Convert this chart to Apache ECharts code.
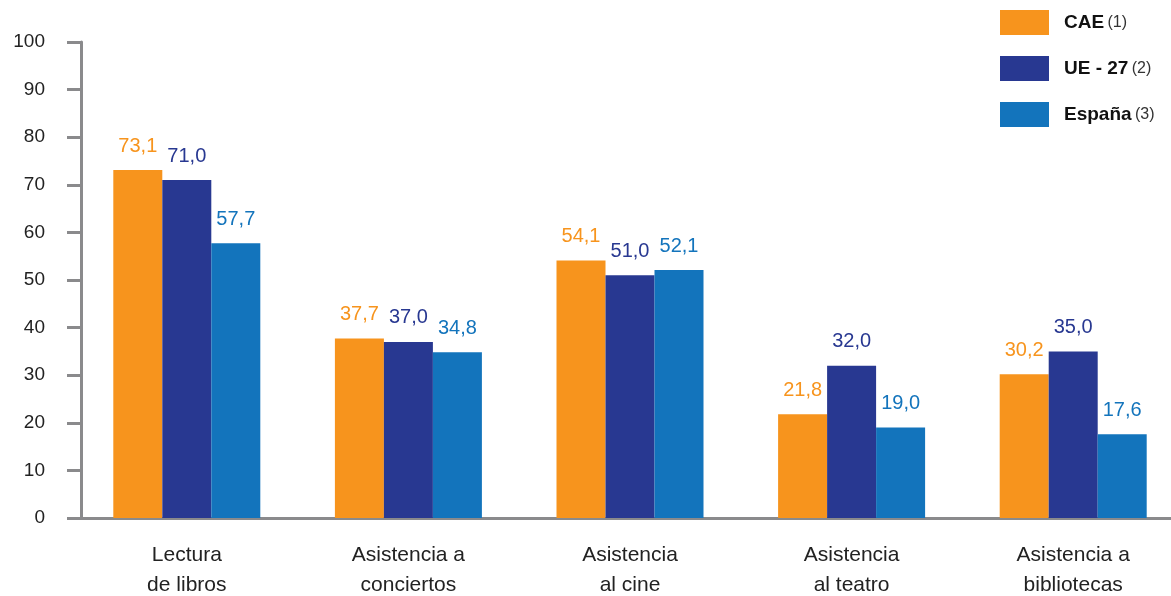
<!DOCTYPE html>
<html><head><meta charset="utf-8">
<script src="https://cdn.jsdelivr.net/npm/echarts@6/dist/echarts.min.js"></script>
<style>html,body{margin:0;padding:0;background:#fff;overflow:hidden}#c{width:1171px;height:596px}</style>
</head><body><div id="c"></div>
<script>
const categories = ['Lectura\nde libros','Asistencia a\nconciertos','Asistencia\nal cine','Asistencia\nal teatro','Asistencia a\nbibliotecas'];
const seriesNames = ['CAE','UE - 27','España'];
const seriesNotes = ['(1)','(2)','(3)'];
const cae = [73.1, 37.7, 54.1, 21.8, 30.2];
const ue27 = [71.0, 37.0, 51.0, 32.0, 35.0];
const espana = [57.7, 34.8, 52.1, 19.0, 17.6];
const yTicks = [0,10,20,30,40,50,60,70,80,90,100];

const colors = ['#F7941D','#283891','#1374BC'];
const font = 'Liberation Sans, Arial, sans-serif';
const chart = echarts.init(document.getElementById('c'));
function mk(name, data, i){
  return {
    name, type:'bar', data, barWidth:49, barGap:'0%',
    itemStyle:{color:colors[i]},
    label:{show:true, position:'top', distance:14, color:colors[i], fontSize:20, fontFamily:font,
      formatter:p=>p.value.toFixed(1).replace('.',',')}
  };
}
chart.setOption({
  animation:false,
  textStyle:{fontFamily:font},
  legend:{
    orient:'vertical', left:995, top:5, itemWidth:49, itemHeight:25, itemGap:21,
    icon:'rect',
    data:seriesNames,
    formatter:n=>'{b|'+n+'} {n|'+seriesNotes[seriesNames.indexOf(n)]+'}',
    textStyle:{padding:[0,0,0,10], rich:{b:{fontSize:19,fontWeight:'bold',color:'#111',fontFamily:font},n:{fontSize:16,color:'#333',fontFamily:font}}}
  },
  grid:{left:76, width:1108, top:42, bottom:78, containLabel:false, outerBoundsMode:'none'},
  xAxis:{
    type:'category', data:categories,
    axisLine:{lineStyle:{color:'#8a8a8c', width:3}},
    axisTick:{show:false},
    axisLabel:{color:'#222', fontSize:21, lineHeight:30, margin:22, fontFamily:font, interval:0}
  },
  yAxis:{
    type:'value', min:yTicks[0], max:yTicks[yTicks.length-1], interval:10, offset:-5,
    axisLine:{show:true, lineStyle:{color:'#8a8a8c', width:3}},
    axisTick:{show:true, length:14, lineStyle:{color:'#8a8a8c', width:3}},
    splitLine:{show:false},
    axisLabel:{color:'#222', fontSize:19, margin:36, fontFamily:font}
  },
  series:[mk(seriesNames[0],cae,0), mk(seriesNames[1],ue27,1), mk(seriesNames[2],espana,2)]
});
</script></body></html>
